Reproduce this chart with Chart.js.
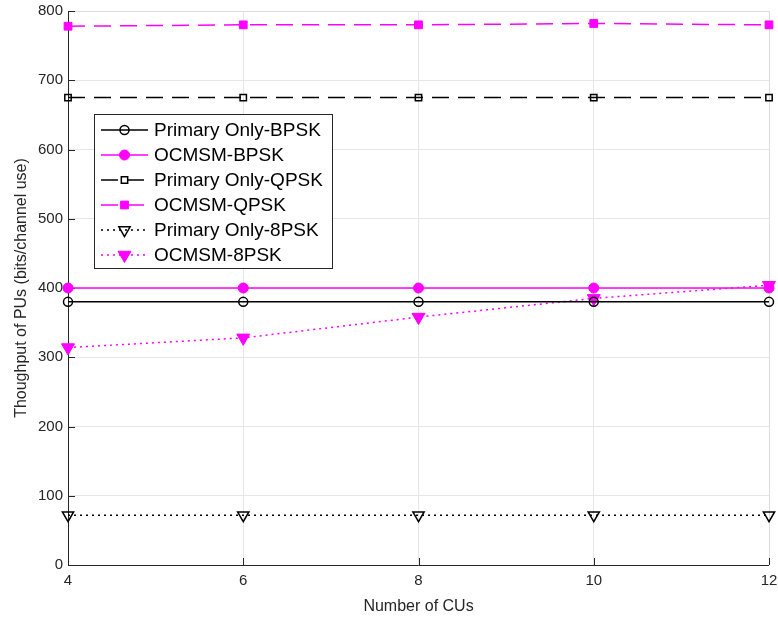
<!DOCTYPE html>
<html>
<head>
<meta charset="utf-8">
<script src="https://cdn.jsdelivr.net/npm/chart.js@4/dist/chart.umd.min.js"></script>
<style>
  html, body { margin: 0; padding: 0; background: #fff; }
  #wrap { width: 778px; height: 620px; position: relative; }
</style>
</head>
<body>
<div id="wrap"><canvas id="chart" width="778" height="620"></canvas></div>
<script>
// data
const cus = [4, 6, 8, 10, 12];
const primaryBpsk = [380, 380, 380, 380, 380];
const ocmsmBpsk = [400, 400, 400, 400, 400];
const primaryQpsk = [675, 675, 675, 675, 675];
const ocmsmQpsk = [778, 780, 780, 782, 780];
const primary8psk = [72, 72, 72, 72, 72];
const ocmsm8psk = [314, 328, 358, 385, 404];

const xTicks = [4, 6, 8, 10, 12];
const yTicks = [0, 100, 200, 300, 400, 500, 600, 700, 800];

const MAGENTA = '#ff00ff';
const BLACK = '#000000';
const FONT = "'Liberation Sans', Arial, sans-serif";

const toPoints = vals => vals.map((v, i) => ({ x: cus[i], y: v }));

const datasets = [
  {
    label: 'Primary Only-BPSK',
    data: toPoints(primaryBpsk),
    borderColor: BLACK,
    pointStyle: 'circle',
    pointRadius: 4.5,
    pointBackgroundColor: 'rgba(0,0,0,0)',
    pointBorderColor: BLACK,
    pointBorderWidth: 1.5,
    borderDash: []
  },
  {
    label: 'OCMSM-BPSK',
    data: toPoints(ocmsmBpsk),
    borderColor: MAGENTA,
    pointStyle: 'circle',
    pointRadius: 5,
    pointBackgroundColor: MAGENTA,
    pointBorderColor: MAGENTA,
    pointBorderWidth: 1,
    borderDash: []
  },
  {
    label: 'Primary Only-QPSK',
    data: toPoints(primaryQpsk),
    borderColor: BLACK,
    pointStyle: 'rect',
    pointRadius: 4.5,
    pointBackgroundColor: 'rgba(0,0,0,0)',
    pointBorderColor: BLACK,
    pointBorderWidth: 1.5,
    borderDash: [17, 9]
  },
  {
    label: 'OCMSM-QPSK',
    data: toPoints(ocmsmQpsk),
    borderColor: MAGENTA,
    pointStyle: 'rect',
    pointRadius: 5.5,
    pointBackgroundColor: MAGENTA,
    pointBorderColor: MAGENTA,
    pointBorderWidth: 1,
    borderDash: [17, 9]
  },
  {
    label: 'Primary Only-8PSK',
    data: toPoints(primary8psk),
    borderColor: BLACK,
    pointStyle: 'triangle',
    pointRotation: 180,
    pointRadius: 6.5,
    pointBackgroundColor: 'rgba(0,0,0,0)',
    pointBorderColor: BLACK,
    pointBorderWidth: 1.5,
    borderDash: [2, 4]
  },
  {
    label: 'OCMSM-8PSK',
    data: toPoints(ocmsm8psk),
    borderColor: MAGENTA,
    pointStyle: 'triangle',
    pointRotation: 180,
    pointRadius: 7.5,
    pointBackgroundColor: MAGENTA,
    pointBorderColor: MAGENTA,
    pointBorderWidth: 1,
    borderDash: [2, 4]
  }
];

datasets.forEach(d => {
  d.borderWidth = 1.5;
  d.tension = 0;
  d.fill = false;
  d.clip = false;
});

// legend drawn inside the axes, MATLAB style
const boxLegend = {
  id: 'boxLegend',
  afterDraw(chart) {
    const ctx = chart.ctx;
    const x0 = 94, y0 = 114, w = 238, h = 154;
    const rowH = 25, firstRow = 130;
    ctx.save();
    ctx.fillStyle = '#fff';
    ctx.fillRect(x0, y0, w, h);
    ctx.strokeStyle = '#262626';
    ctx.lineWidth = 1;
    ctx.strokeRect(x0 + 0.5, y0 + 0.5, w, h);
    ctx.font = '19px ' + FONT;
    ctx.textBaseline = 'middle';
    chart.data.datasets.forEach((ds, i) => {
      const y = firstRow + i * rowH;
      ctx.strokeStyle = ds.borderColor;
      ctx.lineWidth = ds.borderWidth;
      ctx.setLineDash(ds.borderDash);
      ctx.beginPath();
      ctx.moveTo(101, y);
      ctx.lineTo(148, y);
      ctx.stroke();
      ctx.setLineDash([]);
      ctx.fillStyle = ds.pointBackgroundColor;
      ctx.strokeStyle = ds.pointBorderColor;
      ctx.lineWidth = ds.pointBorderWidth;
      Chart.helpers.drawPoint(ctx, {
        pointStyle: ds.pointStyle,
        rotation: ds.pointRotation || 0,
        radius: ds.pointRadius,
        borderWidth: ds.pointBorderWidth
      }, 124.5, y);
      ctx.fillStyle = '#000';
      ctx.fillText(ds.label, 154, y + 1);
    });
    ctx.restore();
  }
};

// frame: dark left/bottom axes and light top/right box
const frame = {
  id: 'frame',
  beforeDatasetsDraw(chart) {
    const { ctx, chartArea: a } = chart;
    ctx.save();
    ctx.lineWidth = 1;
    ctx.strokeStyle = '#dcdcdc';
    ctx.beginPath();
    ctx.moveTo(a.left, a.top + 0.5);
    ctx.lineTo(a.right + 0.5, a.top + 0.5);
    ctx.lineTo(a.right + 0.5, a.bottom);
    ctx.stroke();
    ctx.strokeStyle = '#262626';
    ctx.beginPath();
    ctx.moveTo(a.left + 0.5, a.top);
    ctx.lineTo(a.left + 0.5, a.bottom + 0.5);
    ctx.lineTo(a.right, a.bottom + 0.5);
    ctx.stroke();
    // inward ticks
    const xs = chart.scales.x, ys = chart.scales.y;
    ctx.beginPath();
    xTicks.forEach(t => {
      const px = Math.round(xs.getPixelForValue(t)) + 0.5;
      ctx.moveTo(px, a.bottom);
      ctx.lineTo(px, a.bottom - 7);
    });
    yTicks.forEach(t => {
      const py = Math.round(ys.getPixelForValue(t)) + 0.5;
      ctx.moveTo(a.left, py);
      ctx.lineTo(a.left + 7, py);
    });
    ctx.stroke();
    ctx.restore();
  }
};

Chart.defaults.font.family = FONT;

new Chart(document.getElementById('chart'), {
  type: 'line',
  data: { datasets },
  options: {
    responsive: false,
    animation: false,
    devicePixelRatio: 1,
    layout: { padding: { top: 11, right: 9, left: 8, bottom: 0 } },
    plugins: {
      legend: { display: false },
      tooltip: { enabled: false }
    },
    scales: {
      x: {
        type: 'linear',
        min: 4,
        max: 12,
        afterBuildTicks: s => { s.ticks = xTicks.map(v => ({ value: v })); },
        afterFit: s => {
          s.height = 55;
          s.paddingLeft = 0;
          s.paddingRight = 0;
        },
        grid: { color: '#e6e6e6', drawTicks: false },
        border: { display: false },
        ticks: { color: '#262626', font: { size: 15 }, padding: 7, maxRotation: 0 },
        title: {
          display: true,
          text: 'Number of CUs',
          color: '#262626',
          font: { size: 16 },
          padding: { top: 3 }
        }
      },
      y: {
        type: 'linear',
        min: 0,
        max: 800,
        afterBuildTicks: s => { s.ticks = yTicks.map(v => ({ value: v })); },
        afterFit: s => {
          s.width = 60;
          s.paddingTop = 0;
          s.paddingBottom = 0;
        },
        grid: { color: '#e6e6e6', drawTicks: false },
        border: { display: false },
        ticks: { color: '#262626', font: { size: 15 }, padding: 5 },
        title: {
          display: true,
          text: 'Thoughput of PUs (bits/channel use)',
          color: '#262626',
          font: { size: 16 },
          padding: { bottom: 0 }
        }
      }
    }
  },
  plugins: [frame, boxLegend]
});
</script>
</body>
</html>
